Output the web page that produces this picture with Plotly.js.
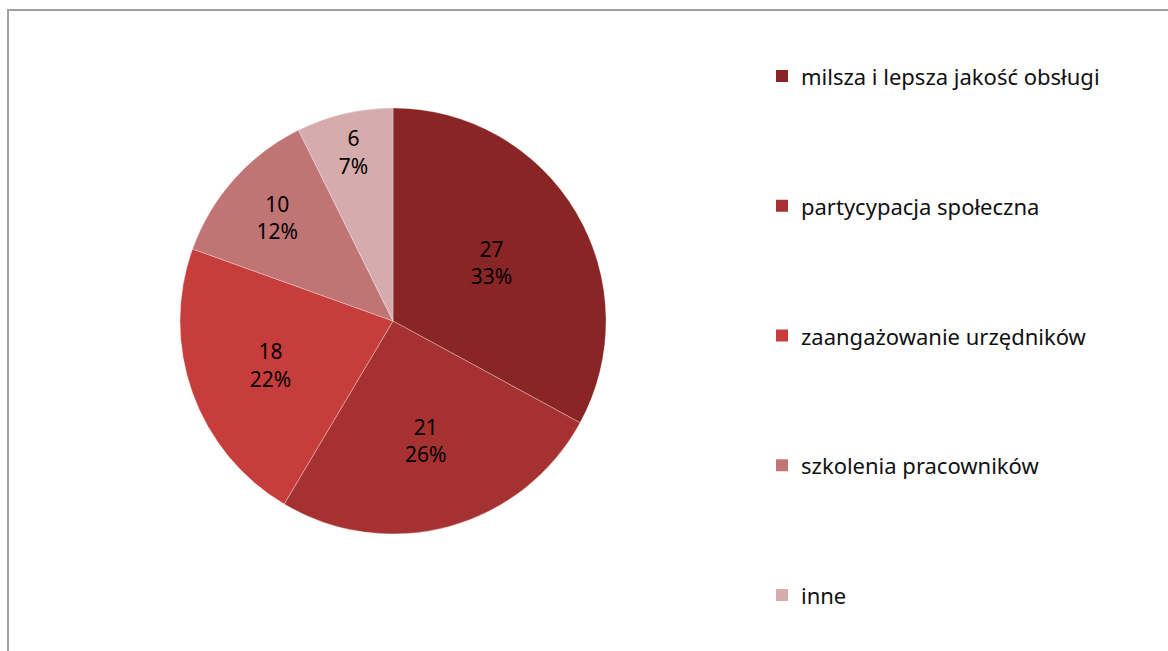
<!DOCTYPE html>
<html><head><meta charset="utf-8">
<script src="https://cdn.plot.ly/plotly-3.0.1.min.js"></script>
<style>html,body{margin:0;padding:0;background:#fff}#chart{width:1168px;height:651px}</style>
</head><body><div id="chart"></div>
<script>
const categories = ["milsza i lepsza jakość obsługi", "partycypacja społeczna", "zaangażowanie urzędników", "szkolenia pracowników", "inne"];
const values = [27, 21, 18, 10, 6];
const colors = ["#8a2525", "#a63131", "#c73d3c", "#c07474", "#d5abab"];

const W = 1168, H = 651;
const font = "Noto Sans, Open Sans, sans-serif";

const shapes = [{
  type: "rect", xref: "paper", yref: "paper",
  x0: 8 / W, x1: 1.05, y0: -0.05, y1: 1 - 10 / H,
  line: { color: "#a0a0a0", width: 2 }, fillcolor: "rgba(0,0,0,0)"
}];
const annotations = [];
const legendTop = 76, legendStep = 129.75;
categories.forEach((c, i) => {
  const yc = legendTop + i * legendStep;
  shapes.push({
    type: "rect", xref: "paper", yref: "paper",
    x0: 776 / W, x1: 788 / W, y0: 1 - (yc + 6) / H, y1: 1 - (yc - 6) / H,
    line: { width: 0 }, fillcolor: colors[i]
  });
  annotations.push({
    xref: "paper", yref: "paper", x: 799 / W, y: 1 - yc / H,
    xanchor: "left", yanchor: "middle", showarrow: false,
    text: c, font: { family: font, size: 22, color: "#111" }
  });
});

Plotly.newPlot("chart", [{
  type: "pie",
  labels: categories,
  values: values,
  sort: false,
  direction: "clockwise",
  rotation: 0,
  marker: { colors: colors, line: { color: "rgba(255,255,255,0.5)", width: 0.6 } },
  texttemplate: "%{value}<br>%{percent:.0%}",
  textposition: "inside",
  insidetextorientation: "horizontal",
  textfont: { family: font, size: 21, color: "#000" },
  showlegend: false,
  hoverinfo: "label+value+percent",
  domain: { x: [180 / W, 606 / W], y: [1 - 534 / H, 1 - 108 / H] }
}], {
  width: W, height: H,
  margin: { l: 0, r: 0, t: 0, b: 0 },
  paper_bgcolor: "#fff",
  shapes: shapes,
  annotations: annotations,
  showlegend: false
}, { displayModeBar: false, staticPlot: true });
</script>
</body></html>
